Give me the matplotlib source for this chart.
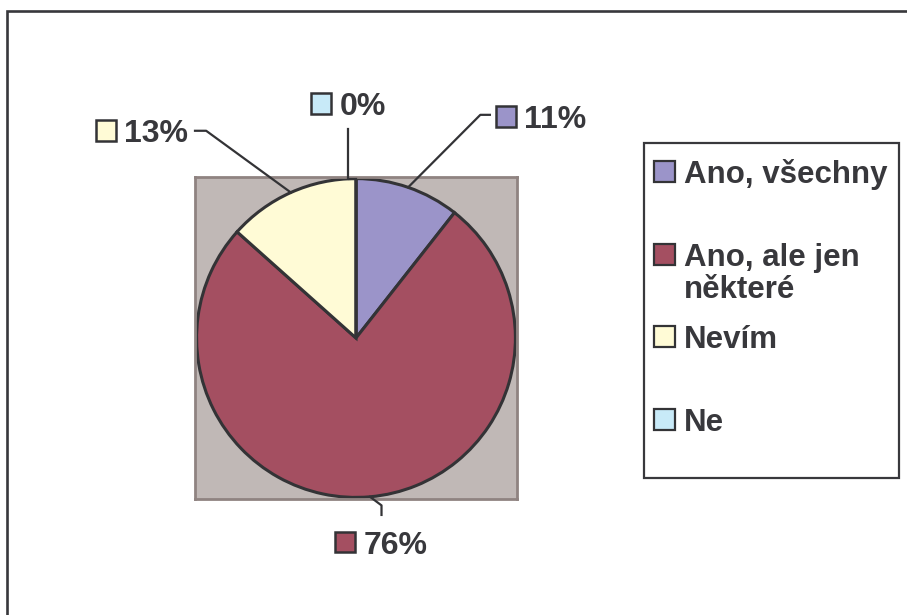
import numpy as np
import matplotlib
matplotlib.use('Agg')
import matplotlib.pyplot as plt
from matplotlib.patches import Rectangle

## Data
categories = ['Ano, všechny', 'Ano, ale jen některé', 'Nevím', 'Ne']
legend_labels = ['Ano, všechny', 'Ano, ale jen\nněkteré', 'Nevím', 'Ne']
shares = [10.6, 76.0, 13.4, 0.0]  # %
colors = ['#9B94C9', '#A44F61', '#FFFBD6', '#C8EAF8']

W, H = 907, 615
plt.rcParams['font.family'] = ['Liberation Sans', 'DejaVu Sans']
plt.rcParams['font.weight'] = 'bold'
txt_col = '#38383C'
line_col = '#333336'


def px(x, y):
    # pixel (from top left) -> figure fraction
    return x / W, 1 - y / H


fig = plt.figure(figsize=(W / 100, H / 100), dpi=100)

# vnější rámeček grafu (pravý a dolní okraj jsou mimo obrázek)
fig.add_artist(Rectangle(px(6.5, 1200), 2000, (1200 - 10.5) / H, transform=fig.transFigure,
                         fill=False, edgecolor=txt_col, linewidth=1.9))

## Koláč - oblast grafu
pa_l, pa_t, pa_r, pa_b = 195, 177, 517, 499
x0, y0 = px(pa_l, pa_b)
ax = fig.add_axes([x0, y0, (pa_r - pa_l) / W, (pa_b - pa_t) / H])

wedges, _ = ax.pie(shares, colors=colors, startangle=90, counterclock=False,
                   wedgeprops=dict(edgecolor=line_col, linewidth=2.2, clip_on=False))
ax.set_frame_on(True)
ax.set_facecolor('#C0B8B6')
for s in ax.spines.values():
    s.set_edgecolor('#8F8381')
    s.set_linewidth(2)
ax.set_xlim(-1.01, 1.01)
ax.set_ylim(-1.01, 1.01)
ax.set_aspect('equal')
ax.set_xticks([])
ax.set_yticks([])

# popisky: (lomený bod, konec čáry, pozice boxu) v souřadnicích koláče
lab_elbow = [(0.78, 1.40), (0.16, -1.05), (-0.94, 1.30), (-0.05, 1.0)]
lab_end = [(0.84, 1.40), (0.16, -1.11), (-1.01, 1.30), (-0.05, 1.31)]
lab_key = [(0.88, 1.39), (-0.13, -1.28), (-1.63, 1.30), (-0.28, 1.47)]

for i, w in enumerate(wedges):
    mid = np.deg2rad((w.theta1 + w.theta2) / 2)
    ex, ey = np.cos(mid), np.sin(mid)
    ax.plot([ex, lab_elbow[i][0], lab_end[i][0]], [ey, lab_elbow[i][1], lab_end[i][1]],
            color=line_col, lw=1.6, clip_on=False, zorder=5)
    kx, ky = lab_key[i]
    ax.add_patch(Rectangle((kx, ky - 0.065), 0.125, 0.13, facecolor=colors[i],
                           edgecolor=line_col, lw=1.8, clip_on=False, zorder=5))
    ax.text(kx + 0.175, ky, f'{shares[i]:.0f}%', fontsize=23, color=txt_col,
            ha='left', va='center_baseline', clip_on=False)

## Legenda
lg_l, lg_t, lg_r, lg_b = 644, 143, 899, 478
fig.add_artist(Rectangle(px(lg_l, lg_b), (lg_r - lg_l) / W, (lg_b - lg_t) / H,
                         transform=fig.transFigure, fill=False,
                         edgecolor=txt_col, linewidth=1.6))
leg_y = [172, 255, 337, 420]
for i, lab in enumerate(legend_labels):
    kx, ky = px(654, leg_y[i] + 10)
    fig.add_artist(Rectangle((kx, ky), 21 / W, 21 / H, transform=fig.transFigure,
                             facecolor=colors[i], edgecolor=line_col, linewidth=1.6))
    for j, line in enumerate(lab.split('\n')):
        tx, ty = px(684, leg_y[i] + 11 + 32 * j)
        fig.text(tx, ty, line, fontsize=22.5, color=txt_col, ha='left', va='baseline')

fig.savefig('out.png', dpi=100)
